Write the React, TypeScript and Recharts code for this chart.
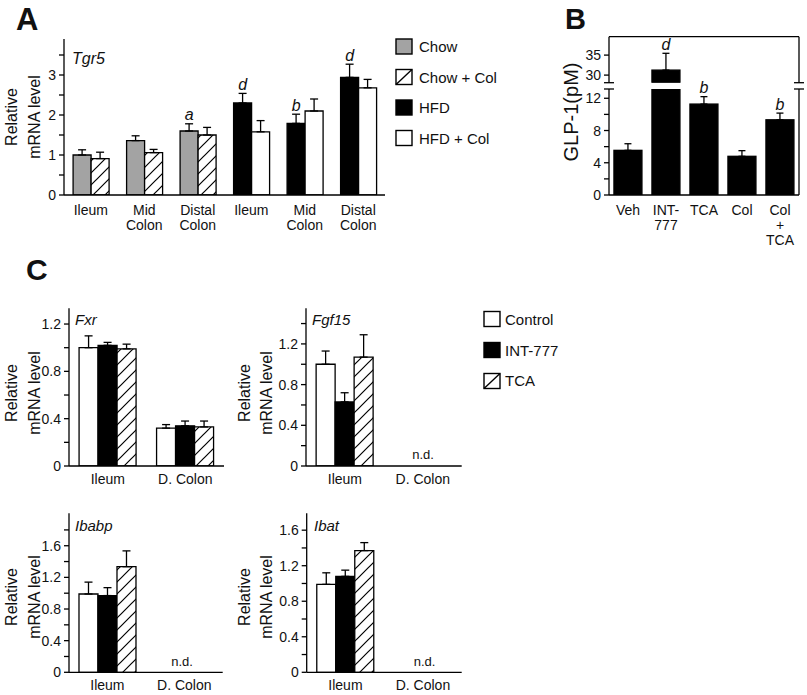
import React from 'react';
import { BarChart, Bar, XAxis, YAxis, ErrorBar, Cell, LabelList } from 'recharts';

const FONT = '"Liberation Sans", Arial, Helvetica, sans-serif';
const INK = '#111';
const GRAY = '#a3a3a3';

// ---------- Panel A : Tgr5 ----------
const tgr5Tissues = ['Ileum', 'Mid\nColon', 'Distal\nColon', 'Ileum', 'Mid\nColon', 'Distal\nColon'];
const tgr5Diet = ['Chow', 'Chow', 'Chow', 'HFD', 'HFD', 'HFD'];
const tgr5Untreated = [1.0, 1.36, 1.6, 2.3, 1.79, 2.94];
const tgr5UntreatedErr = [0.13, 0.12, 0.18, 0.24, 0.23, 0.33];
const tgr5Colesevelam = [0.91, 1.06, 1.5, 1.58, 2.1, 2.68];
const tgr5ColesevelamErr = [0.16, 0.08, 0.19, 0.28, 0.3, 0.21];
const tgr5Sig = ['', '', 'a', 'd', 'b', 'd'];
const tgr5Ticks = [0, 0.5, 1, 1.5, 2, 2.5, 3, 3.5];
const tgr5Labeled = [0, 1, 2, 3];
const tgr5Legend = ['Chow', 'Chow + Col', 'HFD', 'HFD + Col'];

// ---------- Panel B : GLP-1 ----------
const glpGroups = ['Veh', 'INT-\n777', 'TCA', 'Col', 'Col\n+\nTCA'];
const glpValues = [5.54, 31.25, 11.28, 4.8, 9.33];
const glpErr = [0.82, 4.2, 0.92, 0.7, 0.83];
const glpSig = ['', 'd', 'b', '', 'b'];
const glpLowerTicks = [0, 2, 4, 6, 8, 10, 12];
const glpLowerLabeled = [0, 4, 8, 12];
const glpUpperTicks = [30, 35];
const glpLowerDomain = [0, 13.15];
const glpUpperDomain = [28.1, 39.6];

// ---------- Panel C ----------
const cTissues = ['Ileum', 'D. Colon'];
const cLegend = ['Control', 'INT-777', 'TCA'];

const fxrControl = [1.0, 0.32];
const fxrControlErr = [0.1, 0.03];
const fxrInt777 = [1.02, 0.34];
const fxrInt777Err = [0.025, 0.04];
const fxrTca = [0.99, 0.33];
const fxrTcaErr = [0.04, 0.05];

const fgf15Control = [1.0, null];
const fgf15ControlErr = [0.13, null];
const fgf15Int777 = [0.63, null];
const fgf15Int777Err = [0.09, null];
const fgf15Tca = [1.07, null];
const fgf15TcaErr = [0.22, null];

const ibabpControl = [0.99, null];
const ibabpControlErr = [0.15, null];
const ibabpInt777 = [0.97, null];
const ibabpInt777Err = [0.1, null];
const ibabpTca = [1.335, null];
const ibabpTcaErr = [0.2, null];

const ibatControl = [0.99, null];
const ibatControlErr = [0.13, null];
const ibatInt777 = [1.08, null];
const ibatInt777Err = [0.07, null];
const ibatTca = [1.37, null];
const ibatTcaErr = [0.09, null];

const ticksTo14 = [0, 0.2, 0.4, 0.6, 0.8, 1.0, 1.2, 1.4];
const ticksTo18 = [0, 0.2, 0.4, 0.6, 0.8, 1.0, 1.2, 1.4, 1.6, 1.8];
const labeledTo12 = [0, 0.4, 0.8, 1.2];
const labeledTo16 = [0, 0.4, 0.8, 1.2, 1.6];

// ---------- helpers ----------
const axisLineStyle = { stroke: '#000', strokeWidth: 1.3 };

const makeXTick = (dy0: number, lh: number, fs: number) => (props: any) => {
  const { x, y, payload } = props;
  const lines = String(payload.value).split('\n');
  return (
    <text x={x} y={y} textAnchor="middle" fontSize={fs} fill={INK} fontFamily={FONT}>
      {lines.map((l, i) => (
        <tspan key={i} x={x} dy={i === 0 ? dy0 : lh}>{l}</tspan>
      ))}
    </text>
  );
};

const makeYTick = (labeled: number[], fmt: (v: number) => string) => (props: any) => {
  const { x, y, payload } = props;
  if (!labeled.includes(payload.value)) return <g />;
  return (
    <text x={x} y={y} dy={5} textAnchor="end" fontSize={14} fill={INK} fontFamily={FONT}>
      {fmt(payload.value)}
    </text>
  );
};

const makeSig = (vals: number[], errs: number[], base: number, max: number) => (props: any) => {
  const vb = props.viewBox && props.viewBox.width !== undefined ? props.viewBox : props;
  const { x, y, width, height } = vb;
  const { index, value } = props;
  if (!value) return <g />;
  const v = vals[index];
  const e = errs[index];
  if (v + e > max || v <= base) return <g />;
  const ppu = height / (v - base);
  const top = y - e * ppu;
  return (
    <text x={x + width / 2} y={top - 3.5} textAnchor="middle" fontSize={16} fontStyle="italic" fill={INK} fontFamily={FONT}>
      {value}
    </text>
  );
};

// bar shape limited to the plot band [lo, hi] (chart-local pixels), used by the broken axis
const makeClampedShape = (lo: number, hi: number) => (props: any) => {
  const { x, y, width, height, fill } = props;
  if (x == null || y == null || height == null) return <g />;
  const y0 = Math.max(Math.min(y, y + height), lo);
  const y1 = Math.min(Math.max(y, y + height), hi);
  if (y1 - y0 <= 0.5) return <g />;
  return <rect x={x} y={y0} width={width} height={y1 - y0} fill={fill} stroke="#000" strokeWidth={1.3} />;
};

const fmtInt = (v: number) => String(v);
const fmtDec = (v: number) => (v === 0 ? '0' : v.toFixed(1));

const HatchDef = ({ id }: { id: string }) => (
  <defs>
    <pattern id={id} patternUnits="userSpaceOnUse" width={12} height={12}>
      <rect width={12} height={12} fill="#fff" />
      <path d="M-1,1 L1,-1 M0,12 L12,0 M11,13 L13,11" stroke="#000" strokeWidth={1.2} />
    </pattern>
  </defs>
);

// ---------- Panel A ----------
const tgr5Rows = tgr5Tissues.map((t, i) => ({
  tissue: t,
  diet: tgr5Diet[i],
  untreated: tgr5Untreated[i],
  untreatedErr: [0, tgr5UntreatedErr[i]],
  colesevelam: tgr5Colesevelam[i],
  colesevelamErr: [0, tgr5ColesevelamErr[i]],
  sig: tgr5Sig[i],
}));

const PanelA = () => (
  <div style={{ position: 'absolute', left: 0, top: 0 }}>
    <BarChart width={400} height={245} data={tgr5Rows} margin={{ top: 39, right: 15, bottom: 5, left: 24 }} barCategoryGap="17%" barGap={0}>
      <HatchDef id="hatchA" />
      <XAxis dataKey="tissue" height={45} tickLine={false} tickSize={0} tickMargin={0} axisLine={axisLineStyle} tick={makeXTick(20, 15, 14)} interval={0} />
      <XAxis xAxisId="top" orientation="top" type="number" domain={[0, 1]} height={0} tick={false} tickLine={false} axisLine={axisLineStyle} />
      <YAxis type="number" domain={[0, 3.9]} ticks={tgr5Ticks} interval={0} allowDataOverflow width={40} tickSize={5} tickMargin={3} tickLine={axisLineStyle} axisLine={axisLineStyle} tick={makeYTick(tgr5Labeled, fmtInt)} />
      <YAxis yAxisId="right" orientation="right" type="number" domain={[0, 1]} width={0} tick={false} tickLine={false} axisLine={axisLineStyle} />
      <Bar dataKey="untreated" stroke="#000" strokeWidth={1.3} isAnimationActive={false}>
        {tgr5Rows.map((r, i) => (
          <Cell key={i} fill={r.diet === 'Chow' ? GRAY : '#000'} />
        ))}
        <ErrorBar dataKey="untreatedErr" direction="y" width={4} stroke="#000" strokeWidth={1.3} />
        <LabelList dataKey="sig" content={makeSig(tgr5Untreated, tgr5UntreatedErr, 0, 3.9)} />
      </Bar>
      <Bar dataKey="colesevelam" stroke="#000" strokeWidth={1.3} isAnimationActive={false}>
        {tgr5Rows.map((r, i) => (
          <Cell key={i} fill={r.diet === 'Chow' ? 'url(#hatchA)' : '#fff'} />
        ))}
        <ErrorBar dataKey="colesevelamErr" direction="y" width={4} stroke="#000" strokeWidth={1.3} />
      </Bar>
    </BarChart>
  </div>
);

// ---------- Panel B ----------
const glpRows = glpGroups.map((g, i) => ({
  group: g,
  value: glpValues[i],
  err: [0, glpErr[i]],
  sig: glpSig[i],
}));

// upper segment: plot band 36.7 .. 82.7 inside a 86px-high chart
const PanelBUpper = () => (
  <div style={{ position: 'absolute', left: 540, top: 0 }}>
    <BarChart width={267} height={86} data={glpRows} margin={{ top: 36.7, right: 8, bottom: 3.3, left: 29 }} barCategoryGap="13%" barGap={0}>
      <XAxis dataKey="group" hide />
      <XAxis xAxisId="top" orientation="top" type="number" domain={[0, 1]} height={0} tick={false} tickLine={false} axisLine={axisLineStyle} />
      <YAxis type="number" domain={glpUpperDomain} ticks={glpUpperTicks} interval={0} allowDataOverflow width={40} tickSize={5} tickMargin={3} tickLine={axisLineStyle} axisLine={axisLineStyle} tick={makeYTick(glpUpperTicks, fmtInt)} />
      <YAxis yAxisId="right" orientation="right" type="number" domain={[0, 1]} width={0} tick={false} tickLine={false} axisLine={axisLineStyle} />
      <Bar dataKey="value" fill="#000" stroke="#000" strokeWidth={1.3} isAnimationActive={false} shape={makeClampedShape(36.7, 82.7)}>
        <ErrorBar dataKey="err" direction="y" width={3.5} stroke="#000" strokeWidth={1.3} />
        <LabelList dataKey="sig" content={makeSig(glpValues, glpErr, glpUpperDomain[0], glpUpperDomain[1])} />
      </Bar>
    </BarChart>
  </div>
);

// lower segment: plot band 39 .. 145 inside a 210px-high chart placed at top 50
const PanelBLower = () => (
  <div style={{ position: 'absolute', left: 540, top: 50 }}>
    <BarChart width={267} height={210} data={glpRows} margin={{ top: 39, right: 8, bottom: 0, left: 29 }} barCategoryGap="13%" barGap={0}>
      <XAxis dataKey="group" height={65} tickLine={false} tickSize={0} tickMargin={0} axisLine={axisLineStyle} tick={makeXTick(20, 15, 14)} interval={0} />
      <YAxis type="number" domain={glpLowerDomain} ticks={glpLowerTicks} interval={0} allowDataOverflow width={40} tickSize={5} tickMargin={3} tickLine={axisLineStyle} axisLine={axisLineStyle} tick={makeYTick(glpLowerLabeled, fmtInt)} />
      <YAxis yAxisId="right" orientation="right" type="number" domain={[0, 1]} width={0} tick={false} tickLine={false} axisLine={axisLineStyle} />
      <Bar dataKey="value" fill="#000" stroke="#000" strokeWidth={1.3} isAnimationActive={false} shape={makeClampedShape(39, 145)}>
        <ErrorBar dataKey="err" direction="y" width={3.5} stroke="#000" strokeWidth={1.3} />
        <LabelList dataKey="sig" content={makeSig(glpValues, glpErr, glpLowerDomain[0], glpLowerDomain[1])} />
      </Bar>
    </BarChart>
  </div>
);

// ---------- Panel C ----------
type GeneProps = {
  id: string;
  left: number;
  top: number;
  width: number;
  height: number;
  margin: { top: number; right: number; bottom: number; left: number };
  xHeight: number;
  yMax: number;
  ticks: number[];
  labeled: number[];
  control: (number | null)[];
  controlErr: (number | null)[];
  int777: (number | null)[];
  int777Err: (number | null)[];
  tca: (number | null)[];
  tcaErr: (number | null)[];
};

const GeneChart = (p: GeneProps) => {
  const rows = cTissues.map((t, i) => ({
    tissue: t,
    control: p.control[i],
    controlErr: p.controlErr[i] == null ? null : [0, p.controlErr[i]],
    int777: p.int777[i],
    int777Err: p.int777Err[i] == null ? null : [0, p.int777Err[i]],
    tca: p.tca[i],
    tcaErr: p.tcaErr[i] == null ? null : [0, p.tcaErr[i]],
  }));
  return (
    <div style={{ position: 'absolute', left: p.left, top: p.top }}>
      <BarChart width={p.width} height={p.height} data={rows} margin={p.margin} barCategoryGap="13%" barGap={0}>
        <HatchDef id={'hatch' + p.id} />
        <XAxis dataKey="tissue" height={p.xHeight} tickLine={false} tickSize={0} tickMargin={0} axisLine={axisLineStyle} tick={makeXTick(17.5, 15, 14)} interval={0} />
        <XAxis xAxisId="top" orientation="top" type="number" domain={[0, 1]} height={0} tick={false} tickLine={false} axisLine={axisLineStyle} />
        <YAxis type="number" domain={[0, p.yMax]} ticks={p.ticks} interval={0} allowDataOverflow width={40} tickSize={5} tickMargin={3} tickLine={axisLineStyle} axisLine={axisLineStyle} tick={makeYTick(p.labeled, fmtDec)} />
        <YAxis yAxisId="right" orientation="right" type="number" domain={[0, 1]} width={0} tick={false} tickLine={false} axisLine={axisLineStyle} />
        <Bar dataKey="control" fill="#fff" stroke="#000" strokeWidth={1.3} isAnimationActive={false}>
          <ErrorBar dataKey="controlErr" direction="y" width={4} stroke="#000" strokeWidth={1.3} />
        </Bar>
        <Bar dataKey="int777" fill="#000" stroke="#000" strokeWidth={1.3} isAnimationActive={false}>
          <ErrorBar dataKey="int777Err" direction="y" width={4} stroke="#000" strokeWidth={1.3} />
        </Bar>
        <Bar dataKey="tca" fill={'url(#hatch' + p.id + ')'} stroke="#000" strokeWidth={1.3} isAnimationActive={false}>
          <ErrorBar dataKey="tcaErr" direction="y" width={4} stroke="#000" strokeWidth={1.3} />
        </Bar>
      </BarChart>
    </div>
  );
};

// ---------- Annotation overlay (titles, legends, axis breaks) ----------
const txt = { fontFamily: FONT, fill: INK } as const;

const VTitle = ({ x, y, children, size = 16 }: any) => (
  <text transform={`translate(${x},${y}) rotate(-90)`} textAnchor="middle" fontSize={size} {...txt}>
    {children}
  </text>
);

const LegendSwatch = ({ x, y, kind }: { x: number; y: number; kind: string }) => {
  const w = 16;
  const h = 15;
  if (kind === 'hatch') {
    return (
      <g>
        <rect x={x} y={y} width={w} height={h} fill="#fff" stroke="#000" strokeWidth={1.4} />
        <line x1={x} y1={y + h} x2={x + w} y2={y} stroke="#000" strokeWidth={1.4} />
      </g>
    );
  }
  return <rect x={x} y={y} width={w} height={h} fill={kind} stroke="#000" strokeWidth={1.4} />;
};

const tgr5LegendKinds = [GRAY, 'hatch', '#000', '#fff'];
const cLegendKinds = ['#fff', '#000', 'hatch'];

const Overlay = () => (
  <svg width={807} height={695} style={{ position: 'absolute', left: 0, top: 0, pointerEvents: 'none' }}>
    {/* panel letters */}
    <text x={16} y={30} fontSize={31} fontWeight="bold" {...txt}>A</text>
    <text x={565} y={28.5} fontSize={29} fontWeight="bold" {...txt}>B</text>
    <text x={26} y={280} fontSize={30} fontWeight="bold" {...txt}>C</text>

    {/* Panel A titles */}
    <VTitle x={17} y={117}>Relative</VTitle>
    <VTitle x={40} y={117}>mRNA level</VTitle>
    <text x={72} y={64} fontSize={16} fontStyle="italic" {...txt}>Tgr5</text>

    {/* Panel A legend */}
    {tgr5Legend.map((name, i) => (
      <g key={name}>
        <LegendSwatch x={396} y={39 + i * 30.5} kind={tgr5LegendKinds[i]} />
        <text x={419} y={52 + i * 30.5} fontSize={15} {...txt}>{name}</text>
      </g>
    ))}

    {/* Panel B title, frame (top/right) & axis breaks */}
    <VTitle x={578} y={112} size={20}>GLP-1(pM)</VTitle>
    <g stroke="#000" strokeWidth={1.3} fill="none">
      <line x1={609} y1={36.7} x2={799} y2={36.7} />
      <line x1={799} y1={36.7} x2={799} y2={82.7} />
      <line x1={799} y1={89} x2={799} y2={195} />
      {[609, 799].map((ax) => (
        <g key={ax}>
          <line x1={ax - 5} y1={82.7} x2={ax + 5} y2={82.7} />
          <line x1={ax - 5} y1={89} x2={ax + 5} y2={89} />
        </g>
      ))}
    </g>

    {/* Panel C legend */}
    {cLegend.map((name, i) => (
      <g key={name}>
        <LegendSwatch x={484} y={311.5 + i * 31} kind={cLegendKinds[i]} />
        <text x={505} y={325 + i * 30.5} fontSize={15} {...txt}>{name}</text>
      </g>
    ))}

    {/* Panel C y titles */}
    <VTitle x={17} y={393}>Relative</VTitle>
    <VTitle x={40} y={393}>mRNA level</VTitle>
    <VTitle x={250} y={393}>Relative</VTitle>
    <VTitle x={272} y={393}>mRNA level</VTitle>
    <VTitle x={17} y={597}>Relative</VTitle>
    <VTitle x={40} y={597}>mRNA level</VTitle>
    <VTitle x={250} y={597}>Relative</VTitle>
    <VTitle x={272} y={597}>mRNA level</VTitle>

    {/* gene names */}
    <text x={75} y={325} fontSize={15} fontStyle="italic" {...txt}>Fxr</text>
    <text x={312} y={325} fontSize={15} fontStyle="italic" {...txt}>Fgf15</text>
    <text x={75} y={530.5} fontSize={15} fontStyle="italic" {...txt}>Ibabp</text>
    <text x={314} y={530.5} fontSize={15} fontStyle="italic" {...txt}>Ibat</text>

    {/* not detected */}
    <text x={423} y={458.5} fontSize={13} textAnchor="middle" {...txt}>n.d.</text>
    <text x={182} y={665.5} fontSize={13} textAnchor="middle" {...txt}>n.d.</text>
    <text x={424.5} y={665.5} fontSize={13} textAnchor="middle" {...txt}>n.d.</text>
  </svg>
);

export default function App() {
  return (
    <div style={{ position: 'absolute', left: 0, top: 0, width: 807, height: 695, background: '#fff', fontFamily: FONT }}>
      <PanelA />
      <PanelBUpper />
      <PanelBLower />
      <GeneChart
        id="fxr" left={0} top={290} width={235} height={205}
        margin={{ top: 18.3, right: 11, bottom: 4, left: 29 }} xHeight={25}
        yMax={1.333} ticks={ticksTo14.slice(0, 7)} labeled={labeledTo12}
        control={fxrControl} controlErr={fxrControlErr}
        int777={fxrInt777} int777Err={fxrInt777Err}
        tca={fxrTca} tcaErr={fxrTcaErr}
      />
      <GeneChart
        id="fgf15" left={237} top={290} width={235} height={205}
        margin={{ top: 18.3, right: 10.3, bottom: 4, left: 29 }} xHeight={25}
        yMax={1.55} ticks={ticksTo14} labeled={labeledTo12}
        control={fgf15Control} controlErr={fgf15ControlErr}
        int777={fgf15Int777} int777Err={fgf15Int777Err}
        tca={fgf15Tca} tcaErr={fgf15TcaErr}
      />
      <GeneChart
        id="ibabp" left={0} top={495} width={235} height={200}
        margin={{ top: 18.3, right: 12.3, bottom: 0.7, left: 29 }} xHeight={22}
        yMax={2.01} ticks={ticksTo18} labeled={labeledTo16}
        control={ibabpControl} controlErr={ibabpControlErr}
        int777={ibabpInt777} int777Err={ibabpInt777Err}
        tca={ibabpTca} tcaErr={ibabpTcaErr}
      />
      <GeneChart
        id="ibat" left={237} top={495} width={235} height={200}
        margin={{ top: 18.3, right: 10.3, bottom: 0.7, left: 29.7 }} xHeight={22}
        yMax={1.79} ticks={ticksTo18.slice(0, 9)} labeled={labeledTo16}
        control={ibatControl} controlErr={ibatControlErr}
        int777={ibatInt777} int777Err={ibatInt777Err}
        tca={ibatTca} tcaErr={ibatTcaErr}
      />
      <Overlay />
    </div>
  );
}
